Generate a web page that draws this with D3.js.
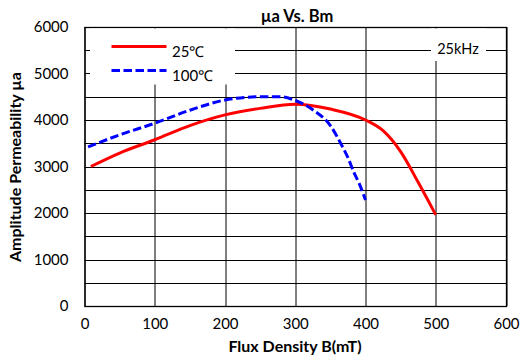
<!DOCTYPE html>
<html>
<head>
<meta charset="utf-8">
<script src="https://cdn.jsdelivr.net/npm/d3@7"></script>
<style>
  body { margin: 0; background: #fff; }
  svg text { font-family: Lato, "Open Sans", sans-serif; }
</style>
</head>
<body>
<div id="viz"></div>
<script>
// 25C curve
var bm25 = [9, 50, 100, 150, 200, 250, 300, 350, 400, 425, 450, 475, 500];
var mu25 = [3000, 3290, 3575, 3880, 4110, 4250, 4340, 4235, 4000, 3770, 3320, 2660, 1960];

// 100C curve
var bm100 = [5, 50, 100, 150, 200, 250, 278, 300, 325, 350, 366, 375, 383, 392, 400];
var mu100 = [3420, 3680, 3930, 4210, 4430, 4500, 4500, 4420, 4220, 3880, 3460, 3190, 2890, 2600, 2280];

var xTicks = [0, 100, 200, 300, 400, 500, 600];
var yTicks = [0, 1000, 2000, 3000, 4000, 5000, 6000];
var yGrid = [500, 1500, 2500, 3500, 4500, 5500];

var seriesNames = ['25\u2103', '100\u2103'];
var seriesColors = ['#ff0000', '#0000ff'];

var margin = { top: 27, right: 23, bottom: 56, left: 84.5 },
    width = 529 - margin.left - margin.right,
    height = 362 - margin.top - margin.bottom;

var svg = d3.select('#viz').append('svg')
  .attr('width', 529)
  .attr('height', 362);

svg.append('rect').attr('width', 529).attr('height', 362).attr('fill', '#fff');

var g = svg.append('g')
  .attr('transform', 'translate(' + margin.left + ',' + margin.top + ')');

var xScale = d3.scaleLinear().domain([0, 600]).range([0, width]);
var yScale = d3.scaleLinear().domain([0, 6000]).range([height, 0]);

// grid lines
g.append('g').selectAll('line').data(yTicks.concat(yGrid))
  .enter().append('line')
    .attr('x1', 0).attr('x2', width)
    .attr('y1', function(d) { return Math.round(yScale(d)) + 0.5; })
    .attr('y2', function(d) { return Math.round(yScale(d)) + 0.5; })
    .attr('stroke', '#000').attr('stroke-width', 1);

g.append('g').selectAll('line').data(xTicks)
  .enter().append('line')
    .attr('y1', 0).attr('y2', height)
    .attr('x1', function(d) { return Math.round(xScale(d)) + 0.5; })
    .attr('x2', function(d) { return Math.round(xScale(d)) + 0.5; })
    .attr('stroke', '#000').attr('stroke-width', 1);

// axes labels only
var yAxis = g.append('g')
  .call(d3.axisLeft(yScale).tickValues(yTicks).tickFormat(d3.format('d'))
    .tickSize(0).tickPadding(16));
var xAxis = g.append('g')
  .attr('transform', 'translate(0,' + height + ')')
  .call(d3.axisBottom(xScale).tickValues(xTicks).tickSize(0).tickPadding(12));

[yAxis, xAxis].forEach(function(a) {
  a.select('.domain').remove();
  a.selectAll('text')
    .style('font-family', 'Lato, sans-serif')
    .style('font-size', '15px')
    .attr('fill', '#000');
});

// plot border
g.append('rect')
  .attr('x', 0.5).attr('y', 0.5)
  .attr('width', width).attr('height', height)
  .attr('fill', 'none').attr('stroke', '#000').attr('stroke-width', 1.3);

// curves
var line = d3.line()
  .x(function(d) { return xScale(d[0]); })
  .y(function(d) { return yScale(d[1]); })
  .curve(d3.curveMonotoneX);

var data25 = d3.zip(bm25, mu25);
var data100 = d3.zip(bm100, mu100);

g.append('path').datum(data25)
  .attr('d', line)
  .attr('fill', 'none')
  .attr('stroke', seriesColors[0])
  .attr('stroke-width', 3);

g.append('path').datum(data100)
  .attr('d', line)
  .attr('fill', 'none')
  .attr('stroke', seriesColors[1])
  .attr('stroke-width', 3)
  .attr('stroke-dasharray', '8.5,3.5');

// legend box (white, hides grid)
var legend = svg.append('g');
legend.append('rect')
  .attr('x', 90).attr('y', 28.5).attr('width', 145).attr('height', 56)
  .attr('fill', '#fff');

seriesNames.forEach(function(name, i) {
  var ly = 46.5 + i * 24;
  legend.append('line')
    .attr('x1', 111.5).attr('x2', 166.5)
    .attr('y1', ly).attr('y2', ly)
    .attr('stroke', seriesColors[i])
    .attr('stroke-width', 3)
    .attr('stroke-dasharray', i === 1 ? '8.5,3.5' : null);
  legend.append('text')
    .attr('x', 172).attr('y', ly + 10)
    .style('font-size', '15px')
    .text(name);
});

// frequency note
svg.append('rect')
  .attr('x', 431).attr('y', 28.5).attr('width', 55).attr('height', 32.5)
  .attr('fill', '#fff');
svg.append('text')
  .attr('x', 458).attr('y', 53.5)
  .attr('text-anchor', 'middle')
  .style('font-size', '14.5px')
  .text('25kHz');

// titles
svg.append('text')
  .attr('x', 297).attr('y', 21.5)
  .attr('text-anchor', 'middle')
  .style('font-size', '16.5px').style('font-weight', 'bold')
  .text('\u00b5a Vs. Bm');

svg.append('text')
  .attr('x', 295).attr('y', 351.5)
  .attr('text-anchor', 'middle')
  .style('font-size', '16px').style('font-weight', 'bold')
  .text('Flux Density B(mT)');

svg.append('text')
  .attr('transform', 'translate(21,167) rotate(-90)')
  .attr('text-anchor', 'middle')
  .style('font-size', '16px').style('font-weight', 'bold')
  .text('Amplitude Permeability \u00b5a');
</script>
</body>
</html>
